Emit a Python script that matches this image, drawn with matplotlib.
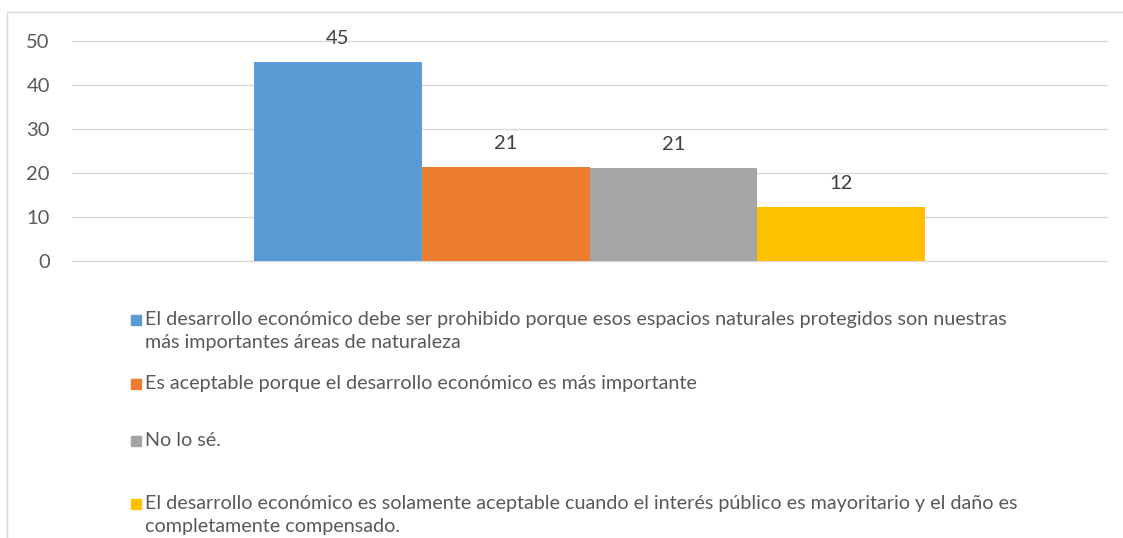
import matplotlib.pyplot as plt
from matplotlib.patches import Rectangle

# data
series_labels = [
    "El desarrollo económico debe ser prohibido porque esos espacios naturales protegidos son nuestras\nmás importantes áreas de naturaleza",
    "Es aceptable porque el desarrollo económico es más importante",
    "No lo sé.",
    "El desarrollo económico es solamente aceptable cuando el interés público es mayoritario y el daño es\ncompletamente compensado.",
]
values = [45.3, 21.4, 21.1, 12.2]
value_labels = ["45", "21", "21", "12"]
colors = ["#5b9bd5", "#ed7d31", "#a5a5a5", "#ffc000"]
y_ticks = [0, 10, 20, 30, 40, 50]

plt.rcParams['font.family'] = ['Lato', 'DejaVu Sans']

W, H = 1123, 538
fig = plt.figure(figsize=(W / 100, H / 100), dpi=100)

# chart area border
fig.patches.append(Rectangle((7 / W, -0.1), 1.2, (H - 12) / H + 0.1, transform=fig.transFigure,
                             fill=False, edgecolor="#d9d9d9", linewidth=1.0))

ax = fig.add_axes([72 / W, (H - 261) / H, (1107 - 72) / W, 220 / H])

bar_w = 0.162
for i, (v, lab, c) in enumerate(zip(values, value_labels, colors)):
    x = (i - 1.5) * bar_w
    ax.bar(x, v, width=bar_w, color=c, zorder=2)
    ax.annotate(lab, (x, v), xytext=(0, 17), textcoords="offset points",
                ha="center", va="center", fontsize=14.5, color="#404040")

ax.set_xlim(-0.5, 0.5)
ax.set_ylim(0, 50)
ax.set_yticks(y_ticks)
ax.set_xticks([])
ax.tick_params(axis="y", length=0, pad=16, labelsize=14.5, labelcolor="#595959")
ax.grid(axis="y", color="#d9d9d9", linewidth=1.0, zorder=0)
for gl in ax.get_ygridlines():
    gl.set_clip_on(False)
for s in ax.spines.values():
    s.set_visible(False)

# legend, drawn by hand so the key sits on the first text line
legend_rows = [320, 384, 441, 504]
for lab, c, yrow in zip(series_labels, colors, legend_rows):
    fig.patches.append(Rectangle((131 / W, (H - yrow - 5) / H), 10 / W, 10 / H,
                                 transform=fig.transFigure, color=c))
    fig.text(145 / W, (H - yrow + 9) / H, lab, ha="left", va="top", fontsize=14.2,
             color="#595959", linespacing=1.42, transform=fig.transFigure)

fig.savefig("out.png", dpi=100)
